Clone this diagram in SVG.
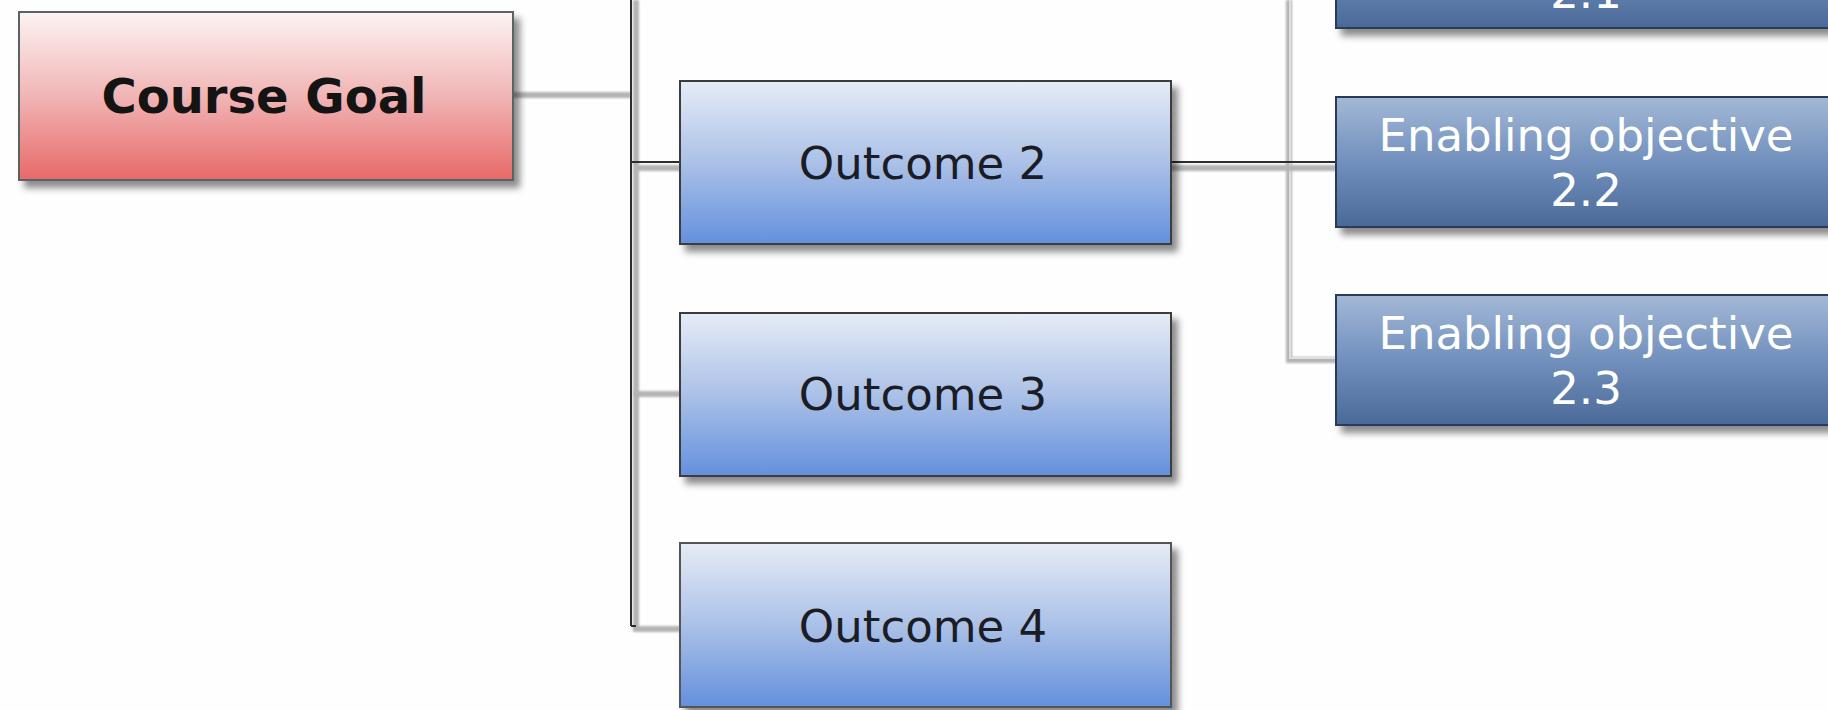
<svg xmlns="http://www.w3.org/2000/svg" width="1828" height="710" viewBox="0 0 1828 710">
  <style>
    .lbl { font-family: "DejaVu Sans", Verdana, sans-serif; font-size: 45px; text-anchor: middle; }
    .goal-lbl { font-family: "DejaVu Sans", Verdana, sans-serif; font-size: 48px; font-weight: bold; fill: #141414; text-anchor: middle; }
    .out-lbl { fill: #1c1c24; }
    .eo-lbl { fill: #ffffff; }
    .wire { stroke: #2e2e2e; stroke-width: 2; fill: none; }
    .wire-shadow { stroke: #b4b4b4; stroke-width: 6; fill: none; filter: url(#soft); }
    .box { filter: url(#drop); }
  </style>
  <defs>
    <linearGradient id="gGoal" x1="0" y1="0" x2="0" y2="1">
      <stop offset="0" stop-color="#fdf3f3"/>
      <stop offset="0.5" stop-color="#f1b5b5"/>
      <stop offset="1" stop-color="#e86868"/>
    </linearGradient>
    <linearGradient id="gOut" x1="0" y1="0" x2="0" y2="1">
      <stop offset="0" stop-color="#e6ecf7"/>
      <stop offset="0.5" stop-color="#abc1e7"/>
      <stop offset="1" stop-color="#6390dd"/>
    </linearGradient>
    <linearGradient id="gEO" x1="0" y1="0" x2="0" y2="1">
      <stop offset="0" stop-color="#a3b8d6"/>
      <stop offset="0.5" stop-color="#7190bd"/>
      <stop offset="1" stop-color="#4a6998"/>
    </linearGradient>
    <filter id="drop" x="-10%" y="-10%" width="125%" height="130%">
      <feDropShadow dx="6" dy="7" stdDeviation="3.5" flood-color="#000" flood-opacity="0.45"/>
    </filter>
    <!-- user-space region so thin straight lines keep their blur -->
    <filter id="soft" filterUnits="userSpaceOnUse" x="0" y="-20" width="1828" height="750">
      <feGaussianBlur stdDeviation="1"/>
    </filter>
  </defs>

  <rect width="1828" height="710" fill="#fefefe"/>

  <!-- connectors -->
  <g id="connectors">
    <!-- goal to outcome trunk -->
    <line class="wire-shadow" x1="513" y1="95" x2="631" y2="95"/>
    <!-- outcome trunk -->
    <line class="wire-shadow" x1="636" y1="0" x2="636" y2="628" stroke-width="4"/>
    <line class="wire" x1="631" y1="0" x2="631" y2="626"/>
    <!-- branch to outcome 2 -->
    <line class="wire-shadow" x1="636" y1="168" x2="680" y2="168" stroke-width="4"/>
    <line class="wire" x1="631" y1="162" x2="680" y2="162"/>
    <!-- branch to outcome 3 -->
    <line class="wire-shadow" x1="634" y1="394" x2="680" y2="394"/>
    <!-- branch to outcome 4 -->
    <line class="wire-shadow" x1="633" y1="629" x2="680" y2="629"/>
    <line class="wire" x1="631" y1="626" x2="636" y2="626"/>
    <!-- enabling objective trunk -->
    <path class="wire-shadow" d="M1289,0 V360 H1336"/>
    <path d="M1290,0 V358 H1336" stroke="#dedede" stroke-width="2" fill="none"/>
    <!-- outcome 2 to enabling objective 2.2 -->
    <line class="wire-shadow" x1="1171" y1="168" x2="1336" y2="168" stroke-width="4"/>
    <line class="wire" x1="1171" y1="162" x2="1336" y2="162"/>
  </g>

  <!-- course goal -->
  <g id="course-goal">
    <rect class="box" x="19" y="12" width="494" height="168" fill="url(#gGoal)" stroke="#5a6464" stroke-width="2"/>
    <text class="goal-lbl" x="264" y="113">Course Goal</text>
  </g>

  <!-- outcomes -->
  <g id="outcome-2">
    <rect class="box" x="680" y="81" width="491" height="163" fill="url(#gOut)" stroke="#3c3c3c" stroke-width="2"/>
    <text class="lbl out-lbl" x="923" y="179">Outcome 2</text>
  </g>
  <g id="outcome-3">
    <rect class="box" x="680" y="313" width="491" height="163" fill="url(#gOut)" stroke="#3c3c3c" stroke-width="2"/>
    <text class="lbl out-lbl" x="923" y="410">Outcome 3</text>
  </g>
  <g id="outcome-4">
    <rect class="box" x="680" y="543" width="491" height="164" fill="url(#gOut)" stroke="#555" stroke-width="2"/>
    <text class="lbl out-lbl" x="923" y="642">Outcome 4</text>
  </g>

  <!-- enabling objectives -->
  <g id="eo-2-1">
    <rect class="box" x="1336" y="-101" width="500" height="129" fill="url(#gEO)" stroke="#2a3a55" stroke-width="2"/>
    <text class="lbl eo-lbl" x="1586" y="8">2.1</text>
  </g>
  <g id="eo-2-2">
    <rect class="box" x="1336" y="97" width="500" height="130" fill="url(#gEO)" stroke="#2a3a55" stroke-width="2"/>
    <text class="lbl eo-lbl" x="1586" y="151">Enabling objective</text>
    <text class="lbl eo-lbl" x="1586" y="206">2.2</text>
  </g>
  <g id="eo-2-3">
    <rect class="box" x="1336" y="295" width="500" height="130" fill="url(#gEO)" stroke="#2a3a55" stroke-width="2"/>
    <text class="lbl eo-lbl" x="1586" y="349">Enabling objective</text>
    <text class="lbl eo-lbl" x="1586" y="404">2.3</text>
  </g>
</svg>
